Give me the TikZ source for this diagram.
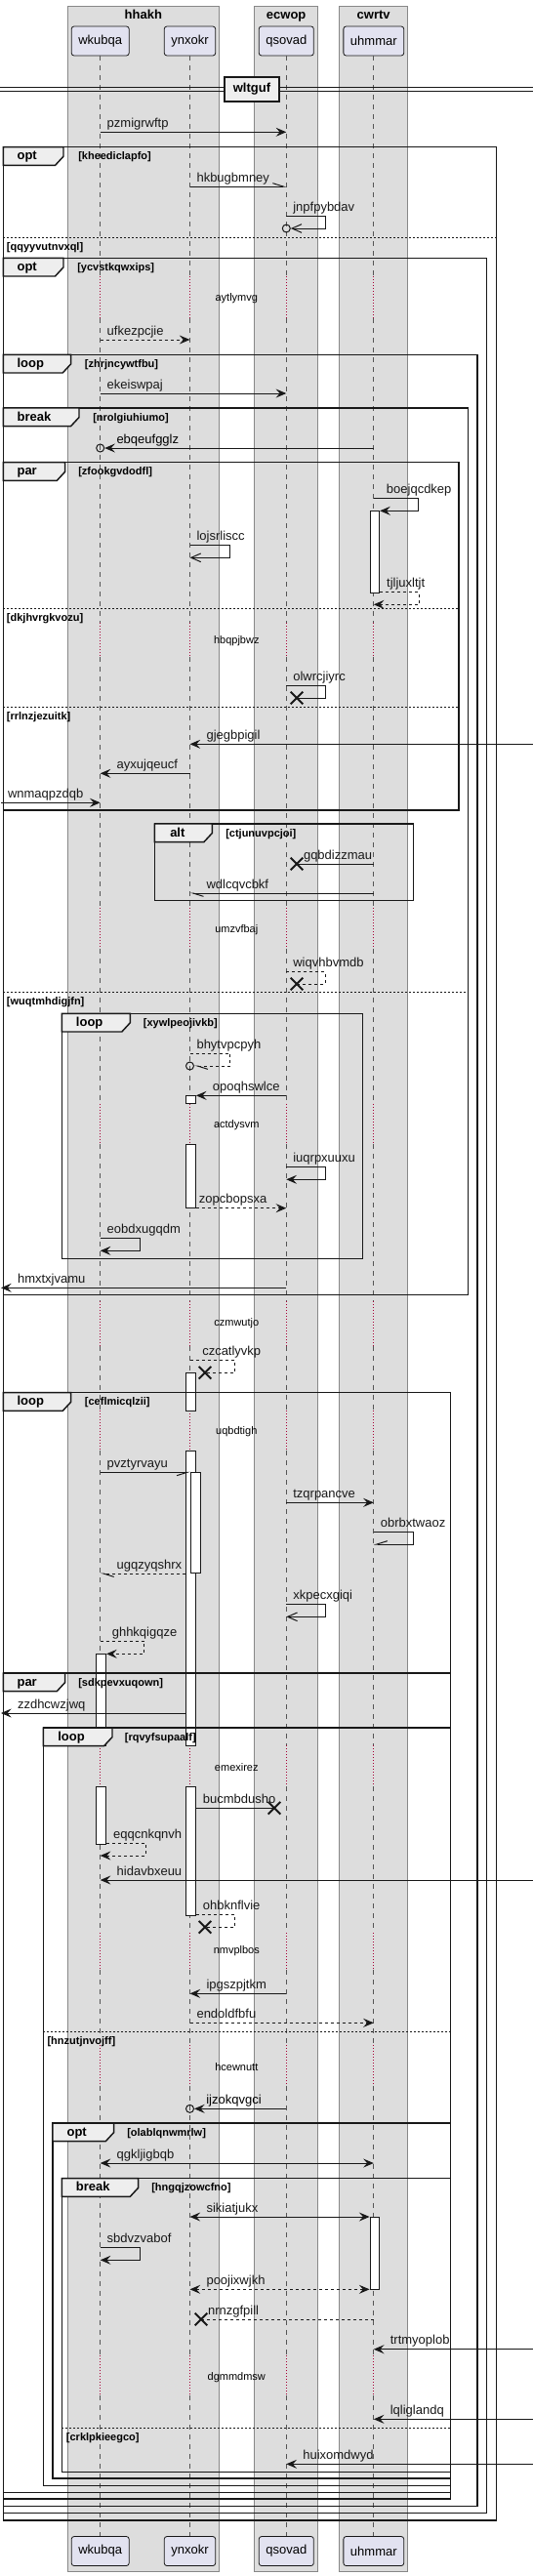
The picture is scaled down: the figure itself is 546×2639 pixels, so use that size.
\documentclass[tikz,border=0pt]{standalone}
\usepackage{fontspec}
\setmainfont{Liberation Sans}
\usetikzlibrary{arrows.meta, shapes.misc}
\definecolor{ink}{HTML}{181818}
\definecolor{partfill}{HTML}{E2E2F0}
\definecolor{boxfill}{HTML}{DDDDDD}
\definecolor{boxline}{HTML}{888888}
\definecolor{tabfill}{HTML}{EEEEEE}
\definecolor{lifegray}{HTML}{555555}
\definecolor{delayred}{HTML}{A80036}

\begin{document}
\begin{tikzpicture}[
  x=0.75pt, y=-0.75pt,
  every node/.style={inner sep=0pt, font=\fontsize{9.75}{11}\selectfont},
  grpbox/.style={fill=boxfill, draw=boxline, line width=0.75pt},
  grptitle/.style={anchor=base, font=\fontsize{9.75}{11}\selectfont\bfseries},
  part/.style={draw=ink, fill=partfill, rounded corners=2pt, line width=0.6pt,
    minimum height=22.5pt, inner xsep=5.3pt},
  life/.style={lifegray, line width=0.75pt, dash pattern=on 3.75pt off 3.75pt},
  dly/.style={delayred, line width=0.75pt, dash pattern=on 0.75pt off 1.5pt},
  dlytext/.style={font=\fontsize{8.25}{10}\selectfont},
  actbar/.style={draw=ink, fill=white, line width=0.75pt, minimum width=7.2pt, xshift=0.8pt},
  sdframe/.style={ink, line width=1.1pt},
  sdtab/.style={draw=ink, fill=tabfill, line width=1.1pt},
  kw/.style={anchor=base west, font=\fontsize{9.75}{11}\selectfont\bfseries},
  cond/.style={anchor=base west, font=\fontsize{8.25}{10}\selectfont\bfseries},
  elsesep/.style={ink, line width=0.75pt, dash pattern=on 1.5pt off 1.5pt},
  divbox/.style={draw=ink, fill=tabfill, line width=1.1pt, minimum width=42pt,
    minimum height=18.75pt, font=\fontsize{9.75}{11}\selectfont\bfseries},
  msg/.style={ink, line width=0.75pt, -{Stealth[length=8pt, width=6.75pt, inset=3pt]}},
  rmsg/.style={msg, dash pattern=on 2.25pt off 2.25pt},
  omsg/.style={ink, line width=0.75pt, -{Straight Barb[length=7.5pt, width=6.5pt]}},
  hleft/.style={ink, line width=0.75pt, -{Straight Barb[harpoon, length=8pt, width=5pt]}},
  hright/.style={ink, line width=0.75pt, -{Straight Barb[harpoon, swap, length=8pt, width=5pt]}},
  rhleft/.style={hleft, dash pattern=on 2.25pt off 2.25pt},
  xmsg/.style={ink, line width=0.75pt},
  rxmsg/.style={xmsg, dash pattern=on 2.25pt off 2.25pt},
  bimsg/.style={ink, line width=0.75pt,
    {Stealth[length=8pt, width=6.75pt, inset=3pt]}-{Stealth[length=8pt, width=6.75pt, inset=3pt]}},
  rbimsg/.style={bimsg, dash pattern=on 2.25pt off 2.25pt},
  destroy/.style={cross out, draw=ink, line width=1.5pt, minimum size=8pt},
  endcirc/.style={circle, draw=ink, line width=0.75pt, minimum size=6pt},
  lblR/.style={anchor=base west, xshift=4.9pt, yshift=3.75pt},
  lblL/.style={anchor=base west, xshift=12.4pt, yshift=3.75pt}
]
  \useasboundingbox (0,0) rectangle (546,2639);
  \coordinate (lft) at (1,0);
  \coordinate (rgt) at (546,0);

  % Boxes
  \draw[grpbox] (69.3,6) rectangle (224.3,2634);
  \draw[grpbox] (260.7,6) rectangle (325.7,2634);
  \draw[grpbox] (347.7,6) rectangle (417.7,2634);
  \node[grptitle] (ghhakh) at (146.8,19.3) {hhakh};
  \node[grptitle] (gecwop) at (293.2,19.3) {ecwop};
  \node[grptitle] (gcwrtv) at (382.7,19.3) {cwrtv};

  % Participants
  \node[part] (wkubqa) at (102.7,42) {wkubqa};
  \node[part] (ynxokr) at (194.5,42) {ynxokr};
  \node[part] (qsovad) at (293.3,42) {qsovad};
  \node[part] (uhmmar) at (382.8,42) {uhmmar};
  \node[part] (wkubqaB) at (102.7,2613.5) {wkubqa};
  \node[part] (ynxokrB) at (194.5,2613.5) {ynxokr};
  \node[part] (qsovadB) at (293.3,2613.5) {qsovad};
  \node[part] (uhmmarB) at (382.8,2613.5) {uhmmar};

  % Lifelines and delays
  \foreach \p in {wkubqa,ynxokr,qsovad,uhmmar}{
    \foreach \ya/\yb in {57/283.3, 326/638.3, 673.3/930, 971.7/1130.7, 1172/1333.3,
        1378.7/1445, 1486/1788.3, 1830/1980, 2018.3/2095, 2136.7/2413.3, 2454.3/2597.7}
      \draw[life] (\p |- 0,\ya) -- (\p |- 0,\yb);
    \foreach \ya/\yb in {283.3/326, 638.3/673.3, 930/971.7, 1130.7/1172, 1333.3/1378.7,
        1445/1486, 1788.3/1830, 1980/2018.3, 2095/2136.7, 2413.3/2454.3}
      \draw[dly] (\p |- 0,\ya) -- (\p |- 0,\yb);
  }
  \node[dlytext] (d1) at (242.3,305.7) {aytlymvg};
  \node[dlytext] (d2) at (242.3,657) {hbqpjbwz};
  \node[dlytext] (d3) at (242.3,952.3) {umzvfbaj};
  \node[dlytext] (d4) at (242.3,1152.7) {actdysvm};
  \node[dlytext] (d5) at (242.3,1356) {czmwutjo};
  \node[dlytext] (d6) at (242.3,1466.7) {uqbdtigh};
  \node[dlytext] (d7) at (242.3,1810.7) {emexirez};
  \node[dlytext] (d8) at (242.3,1999) {nmvplbos};
  \node[dlytext] (d9) at (242.3,2117.7) {hcewnutt};
  \node[dlytext] (d10) at (242.3,2436) {dgmmdmsw};

  % Activations
  \node[actbar, minimum height=84*0.75pt] (act1) at (uhmmar |- 0,565.3) {};
  \node[actbar, minimum height=8.4*0.75pt] (act2a) at (ynxokr |- 0,1126.5) {};
  \node[actbar, minimum height=65.7*0.75pt] (act2b) at (ynxokr |- 0,1204.85) {};
  \node[actbar, minimum height=38.7*0.75pt] (act3a) at (ynxokr |- 0,1425.65) {};
  \node[actbar, minimum height=302.3*0.75pt] (act3b) at (ynxokr |- 0,1637.15) {};
  \node[actbar, minimum height=132*0.75pt] (act3c) at (ynxokr |- 0,1896) {};
  \node[actbar, minimum height=103.4*0.75pt, xshift=3.6pt] (act4) at (ynxokr |- 0,1560) {};
  \node[actbar, minimum height=94*0.75pt] (act5a) at (wkubqa |- 0,1741.3) {};
  \node[actbar, minimum height=59*0.75pt] (act5b) at (wkubqa |- 0,1859.5) {};
  \node[actbar, minimum height=74.3*0.75pt] (act6) at (uhmmar |- 0,2308.15) {};

  % Divider
  \draw[ink, line width=0.75pt] (0,89.3) -- (546,89.3) (0,93.3) -- (546,93.3);
  \node[divbox] (div) at (258,91.3) {wltguf};

  % opt [kheediclapfo]
  \draw[sdframe] (3.3,150.7) rectangle (508.3,2582);
  \draw[sdtab] (3.3,150.7) -| (65,160.2) -- (56.5,169.4) -- (3.3,169.4) -- cycle;
  \node[kw] (f1kw) at (17.3,163.7) {opt};
  \node[cond] (f1cond) at (80,163.7) {[kheediclapfo]};
  \draw[elsesep] (3.3,243.3) -- (508.3,243.3);
  \node[cond] (f1else) at (6.7,256.3) {[qqyyvutnvxql]};

  % opt [ycvstkqwxips]
  \draw[sdframe] (3.3,264.3) rectangle (498.3,2574.7);
  \draw[sdtab] (3.3,264.3) -| (65,273.8) -- (56.5,283) -- (3.3,283) -- cycle;
  \node[kw] (f2kw) at (17.3,277.3) {opt};
  \node[cond] (f2cond) at (79,277.3) {[ycvstkqwxips]};

  % loop [zhrjncywtfbu]
  \draw[sdframe] (3.3,363.3) rectangle (489,2567.3);
  \draw[sdtab] (3.3,363.3) -| (72.7,372.8) -- (64.2,382) -- (3.3,382) -- cycle;
  \node[kw] (f3kw) at (17.3,376.3) {loop};
  \node[cond] (f3cond) at (86.7,376.3) {[zhrjncywtfbu]};

  % break [nrolgiuhiumo]
  \draw[sdframe] (3.3,418) rectangle (479.3,1326.7);
  \draw[sdtab] (3.3,418) -| (81,427.5) -- (72.5,436.7) -- (3.3,436.7) -- cycle;
  \node[kw] (f4kw) at (17.3,431) {break};
  \node[cond] (f4cond) at (95,431) {[nrolgiuhiumo]};
  \draw[elsesep] (3.3,1016.7) -- (479.3,1016.7);
  \node[cond] (f4else) at (6.7,1029.7) {[wuqtmhdigjfn]};

  % par [zfookgvdodfl]
  \draw[sdframe] (3.3,473.7) rectangle (470,830);
  \draw[sdtab] (3.3,473.7) -| (66.7,483.2) -- (58.2,492.4) -- (3.3,492.4) -- cycle;
  \node[kw] (f5kw) at (17.3,486.7) {par};
  \node[cond] (f5cond) at (80,486.7) {[zfookgvdodfl]};
  \draw[elsesep] (3.3,623) -- (470,623);
  \node[cond] (f5else1) at (6.7,636) {[dkjhvrgkvozu]};
  \draw[elsesep] (3.3,724.3) -- (470,724.3);
  \node[cond] (f5else2) at (6.7,737.3) {[rrlnzjezuitk]};

  % alt [ctjunuvpcjoi]
  \draw[sdframe] (158.3,844) rectangle (423.3,922.7);
  \draw[sdtab] (158.3,844) -| (217.3,853.5) -- (208.8,862.7) -- (158.3,862.7) -- cycle;
  \node[kw] (f6kw) at (174,857) {alt};
  \node[cond] (f6cond) at (231,857) {[ctjunuvpcjoi]};

  % loop [xywlpeojivkb]
  \draw[sdframe] (63.3,1038.3) rectangle (371.7,1289.3);
  \draw[sdtab] (63.3,1038.3) -| (133.3,1047.8) -- (124.8,1057) -- (63.3,1057) -- cycle;
  \node[kw] (f7kw) at (77.7,1051.3) {loop};
  \node[cond] (f7cond) at (146.7,1051.3) {[xywlpeojivkb]};

  % loop [ceflmicqlzii]
  \draw[sdframe] (3.3,1426.7) rectangle (461.3,2560);
  \draw[sdtab] (3.3,1426.7) -| (72.7,1436.2) -- (64.2,1445.4) -- (3.3,1445.4) -- cycle;
  \node[kw] (f8kw) at (17.3,1439.7) {loop};
  \node[cond] (f8cond) at (86.7,1439.7) {[ceflmicqlzii]};

  % par [sdkpevxuqown]
  \draw[sdframe] (3.3,1714) rectangle (461.3,2553.3);
  \draw[sdtab] (3.3,1714) -| (66.7,1723.5) -- (58.2,1732.7) -- (3.3,1732.7) -- cycle;
  \node[kw] (f9kw) at (17.3,1727) {par};
  \node[cond] (f9cond) at (80,1727) {[sdkpevxuqown]};

  % loop [rqvyfsupaalf]
  \draw[sdframe] (44.3,1770) rectangle (461.3,2546.7);
  \draw[sdtab] (44.3,1770) -| (115,1779.5) -- (106.5,1788.7) -- (44.3,1788.7) -- cycle;
  \node[kw] (f10kw) at (59,1783) {loop};
  \node[cond] (f10cond) at (127.7,1783) {[rqvyfsupaalf]};
  \draw[elsesep] (44.3,2081) -- (461.3,2081);
  \node[cond] (f10else) at (48.3,2094) {[hnzutjnvojff]};

  % opt [olablqnwmrlw]
  \draw[sdframe] (54,2175) rectangle (461.3,2539);
  \draw[sdtab] (54,2175) -| (116.7,2184.5) -- (108.2,2193.7) -- (54,2193.7) -- cycle;
  \node[kw] (f11kw) at (68.3,2188) {opt};
  \node[cond] (f11cond) at (130,2188) {[olablqnwmrlw]};

  % break [hngqjzowcfno]
  \draw[sdframe] (63.3,2231.7) rectangle (461.3,2532.3);
  \draw[sdtab] (63.3,2231.7) -| (141.7,2241.2) -- (133.2,2250.4) -- (63.3,2250.4) -- cycle;
  \node[kw] (f12kw) at (77.7,2244.7) {break};
  \node[cond] (f12cond) at (155,2244.7) {[hngqjzowcfno]};
  \draw[elsesep] (63.3,2487.3) -- (461.3,2487.3);
  \node[cond] (f12else) at (67.7,2500.3) {[crklpkieegco]};

  % Messages
  \draw[msg] (wkubqa |- 0,135.3) node[lblR] (m1) {pzmigrwftp} -- (qsovad |- 0,135.3);
  \draw[hleft] (ynxokr |- 0,191) node[lblR] (m2) {hkbugbmney} -- (qsovad |- 0,191);
  \node[endcirc] (o1) at (qsovad |- 0,234) {};
  \draw[omsg] (qsovad |- 0,221) node[lblR] (m3) {jnpfpybdav} -- ++(39.7,0) |- (o1.east);
  \draw[rmsg] (wkubqa |- 0,348) node[lblR] (m4) {ufkezpcjie} -- (ynxokr |- 0,348);
  \draw[msg] (wkubqa |- 0,403) node[lblR] (m5) {ekeiswpaj} -- (qsovad |- 0,403);
  \node[endcirc] (o2) at (wkubqa |- 0,459) {};
  \draw[msg] (uhmmar |- 0,459) -- (o2.east);
  \node[lblL] (m6) at (wkubqa |- 0,459) {ebqeufgglz};
  \draw[msg] (uhmmar |- 0,510) node[lblR, xshift=4.6pt] (m7) {boejqcdkep}
    -- ++(45.6,0) |- (act1.east |- 0,523.3);
  \draw[omsg] (ynxokr |- 0,558.3) node[lblR] (m8) {lojsrliscc} -- ++(41.3,0) |- (ynxokr |- 0,571.3);
  \draw[rmsg] (act1.east |- 0,606.7) node[lblR] (m9) {tjljuxltjt} -- ++(40,0) |- (uhmmar |- 0,619.3);
  \node[destroy] (x1) at (304,715) {};
  \draw[xmsg] (qsovad |- 0,702.3) node[lblR] (m10) {olwrcjiyrc} -- ++(39.7,0) |- (x1.center);
  \draw[msg] (rgt |- 0,762.3) -- (ynxokr |- 0,762.3) node[lblL] (m11) {gjegbpigil};
  \draw[msg] (ynxokr |- 0,792.3) -- (wkubqa |- 0,792.3) node[lblL] (m12) {ayxujqeucf};
  \draw[msg] (lft |- 0,822.3) node[lblR] (m13) {wnmaqpzdqb} -- (wkubqa |- 0,822.3);
  \node[destroy] (x2) at (304,885) {};
  \draw[xmsg] (uhmmar |- 0,885) -- (x2.center) node[lblR] (m14) {gqbdizzmau};
  \draw[hleft] (uhmmar |- 0,915) -- (ynxokr |- 0,915) node[lblL] (m15) {wdlcqvcbkf};
  \node[destroy] (x3) at (304,1008) {};
  \draw[rxmsg] (qsovad |- 0,995.7) node[lblR] (m16) {wiqvhbvmdb} -- ++(39.7,0) |- (x3.center);
  \node[endcirc] (o3) at (ynxokr |- 0,1092) {};
  \draw[rhleft] (ynxokr |- 0,1079.3) node[lblR] (m17) {bhytvpcpyh} -- ++(41.3,0) |- (o3.east);
  \draw[msg] (qsovad |- 0,1122.3) -- (act2a.east |- 0,1122.3) node[lblL] (m18) {opoqhswlce};
  \draw[msg] (qsovad |- 0,1195.7) node[lblR] (m19) {iuqrpxuuxu} -- ++(39.7,0) |- (qsovad |- 0,1208.3);
  \draw[rmsg] (act2b.east |- 0,1237.7) node[lblR, xshift=-3pt] (m20) {zopcbopsxa} -- (qsovad |- 0,1237.7);
  \draw[msg] (wkubqa |- 0,1268.3) node[lblR] (m21) {eobdxugqdm} -- ++(40.6,0) |- (wkubqa |- 0,1281.3);
  \draw[msg] (qsovad |- 0,1319.3) -- (lft |- 0,1319.3) node[lblL] (m22) {hmxtxjvamu};
  \node[destroy] (x4) at (210,1406.3) {};
  \draw[rxmsg] (ynxokr |- 0,1393.3) node[lblR, xshift=4.3pt] (m23) {czcatlyvkp}
    -- ++(45.6,0) |- (x4.center);
  \draw[hright] (wkubqa |- 0,1508.3) node[lblR] (m24) {pvztyrvayu} -- (act4.west |- 0,1508.3);
  \draw[msg] (qsovad |- 0,1539.3) node[lblR] (m25) {tzqrpancve} -- (uhmmar |- 0,1539.3);
  \draw[hright] (uhmmar |- 0,1569.3) node[lblR] (m26) {obrbxtwaoz} -- ++(41,0) |- (uhmmar |- 0,1582);
  \draw[rhleft] (act3b.west |- 0,1612) -- (wkubqa |- 0,1612) node[lblL] (m27) {ugqzyqshrx};
  \draw[omsg] (qsovad |- 0,1643.3) node[lblR] (m28) {xkpecxgiqi} -- ++(39.7,0) |- (qsovad |- 0,1656.3);
  \draw[rmsg] (wkubqa |- 0,1681.3) node[lblR, xshift=3.8pt] (m29) {ghhkqigqze}
    -- ++(45,0) |- (act5a.east |- 0,1694.3);
  \draw[msg] (act3b.west |- 0,1755) -- (lft |- 0,1755) node[lblL] (m30) {zzdhcwzjwq};
  \node[destroy] (x5) at (281,1852.3) {};
  \draw[xmsg] (act3c.east |- 0,1852.3) node[lblR] (m31) {bucmbdusho} -- (x5.center);
  \draw[rmsg] (act5b.east |- 0,1888) node[lblR] (m32) {eqqcnkqnvh} -- ++(40,0) |- (wkubqa |- 0,1901);
  \draw[msg] (rgt |- 0,1926) -- (wkubqa |- 0,1926) node[lblL] (m33) {hidavbxeuu};
  \node[destroy] (x6) at (210,1974.3) {};
  \draw[rxmsg] (act3c.east |- 0,1961.7) node[lblR] (m34) {ohbknflvie} -- ++(40,0) |- (x6.center);
  \draw[msg] (qsovad |- 0,2042.3) -- (ynxokr |- 0,2042.3) node[lblL] (m35) {ipgszpjtkm};
  \draw[rmsg] (ynxokr |- 0,2072.3) node[lblR] (m36) {endoldfbfu} -- (uhmmar |- 0,2072.3);
  \node[endcirc] (o4) at (ynxokr |- 0,2160.3) {};
  \draw[msg] (qsovad |- 0,2160.3) -- (o4.east);
  \node[lblL] (m37) at (ynxokr |- 0,2160.3) {ijzokqvgci};
  \draw[bimsg] (wkubqa |- 0,2216) node[lblL] (m38) {qgkljigbqb} -- (uhmmar |- 0,2216);
  \draw[bimsg] (ynxokr |- 0,2271) node[lblL] (m39) {sikiatjukx} -- (act6.west |- 0,2271);
  \draw[msg] (wkubqa |- 0,2302.3) node[lblR] (m40) {sbdvzvabof} -- ++(40.6,0) |- (wkubqa |- 0,2315.3);
  \draw[rbimsg] (ynxokr |- 0,2345.3) node[lblL] (m41) {poojixwjkh} -- (act6.west |- 0,2345.3);
  \node[destroy] (x7) at (206,2376) {};
  \draw[rxmsg] (uhmmar |- 0,2376) -- (x7.center) node[lblR] (m42) {nrnzgfpill};
  \draw[msg] (rgt |- 0,2406.7) -- (uhmmar |- 0,2406.7) node[lblL] (m43) {trtmyoplob};
  \draw[msg] (rgt |- 0,2478.3) -- (uhmmar |- 0,2478.3) node[lblL] (m44) {lqliglandq};
  \draw[msg] (rgt |- 0,2524.3) -- (qsovad |- 0,2524.3) node[lblL] (m45) {huixomdwyd};
\end{tikzpicture}
\end{document}
